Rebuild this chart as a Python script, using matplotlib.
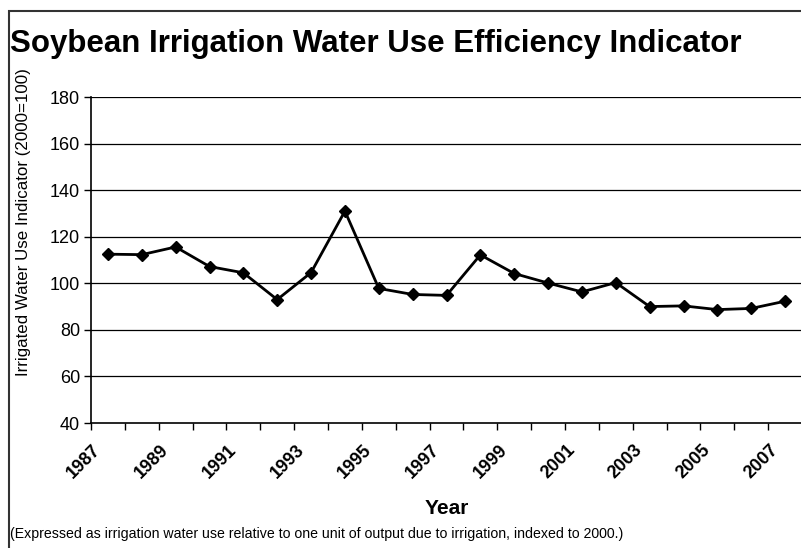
import matplotlib
matplotlib.use("Agg")
import matplotlib.pyplot as plt
import matplotlib.transforms as mtransforms
from matplotlib.patches import Rectangle
import numpy as np

years = list(range(1987, 2008))
values = [112.5, 112.3, 115.6, 107.2, 104.5, 93.0, 104.6, 131.0, 97.8, 95.2,
          94.8, 112.2, 104.2, 100.1, 96.3, 100.3, 90.0, 90.3, 88.7, 89.2, 92.3]
yticks = [40, 60, 80, 100, 120, 140, 160, 180]
label_years = [y for y in years if (y - 1987) % 2 == 0]

plt.rcParams['font.family'] = ['Liberation Sans', 'DejaVu Sans']

W, H = 801, 548
fig = plt.figure(figsize=(W / 100, H / 100), dpi=100)
ax = fig.add_axes([91 / W, 1 - 423 / H, 711 / W, 326 / H])

x = np.arange(len(years))
ax.plot(x, values, color='black', lw=2, marker='D', markersize=6, zorder=3)

ax.set_xlim(-0.5, len(years) - 0.5)
ax.set_ylim(40, 180)
ax.set_yticks(yticks)
ax.set_yticklabels([str(v) for v in yticks], fontsize=13)
for v in yticks[1:]:
    ax.axhline(v, color='black', lw=0.9, zorder=1)

ax.set_xticks([years.index(y) for y in label_years])
ax.set_xticklabels([str(y) for y in label_years], rotation=45, ha='right', va='center',
                   rotation_mode='anchor', fontsize=13, fontweight='bold')
ax.tick_params(axis='x', which='major', length=0, pad=17.5)
offset = mtransforms.ScaledTranslation(-9.5 / 100, 0, fig.dpi_scale_trans)
for lbl in ax.get_xticklabels():
    lbl.set_transform(lbl.get_transform() + offset)
ax.set_xticks(np.arange(-0.5, len(years) + 0.5, 1), minor=True)
ax.tick_params(axis='x', which='minor', length=5, width=1, direction='out')
ax.tick_params(axis='y', length=5, width=1, direction='out', pad=3)

for s in ['top', 'right']:
    ax.spines[s].set_visible(False)
for s in ['left', 'bottom']:
    ax.spines[s].set_linewidth(1.2)

fig.text(10 / W, 1 - 52 / H, 'Soybean Irrigation Water Use Efficiency Indicator',
         fontsize=22.5, fontweight='bold', ha='left', va='baseline')
fig.text(24 / W, 1 - 222 / H, 'Irrigated Water Use Indicator (2000=100)',
         rotation=90, fontsize=12.2, ha='center', va='center')
fig.text(446.5 / W, 1 - 514 / H, 'Year', fontsize=15, fontweight='bold',
         ha='center', va='baseline')
fig.text(10 / W, 1 - 538 / H,
         '(Expressed as irrigation water use relative to one unit of output due to irrigation, indexed to 2000.)',
         fontsize=10.2, ha='left', va='baseline')

fig.patches.append(Rectangle((9 / W, -0.1), 1.0, 1.1 - 11 / H, transform=fig.transFigure,
                             fill=False, edgecolor='#333333', lw=1.5, zorder=0))

fig.savefig('out.png', dpi=100)
